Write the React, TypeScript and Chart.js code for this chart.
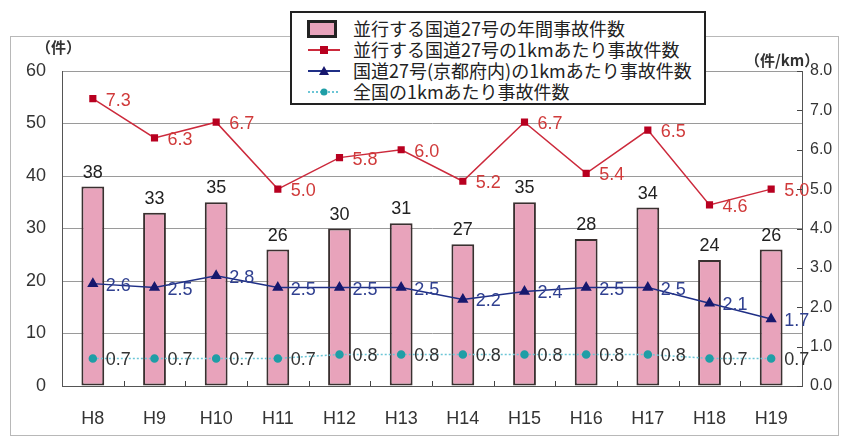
import React, { useEffect, useRef } from "react";
import { Chart, registerables } from "chart.js";

Chart.register(...registerables);

const categories = ["H8", "H9", "H10", "H11", "H12", "H13", "H14", "H15", "H16", "H17", "H18", "H19"];
const annualAccidents = [38, 33, 35, 26, 30, 31, 27, 35, 28, 34, 24, 26];
const parallelPerKm = [7.3, 6.3, 6.7, 5.0, 5.8, 6.0, 5.2, 6.7, 5.4, 6.5, 4.6, 5.0];
const kyotoPerKm = [2.6, 2.5, 2.8, 2.5, 2.5, 2.5, 2.2, 2.4, 2.5, 2.5, 2.1, 1.7];
const nationalPerKm = [0.7, 0.7, 0.7, 0.7, 0.8, 0.8, 0.8, 0.8, 0.8, 0.8, 0.7, 0.7];
const seriesNames = [
  "並行する国道27号の年間事故件数",
  "並行する国道27号の1kmあたり事故件数",
  "国道27号(京都府内)の1kmあたり事故件数",
  "全国の1kmあたり事故件数",
];
const leftUnit = "（件）";
const rightUnit = "（件/km）";

const NUM_FONT = "'Liberation Sans', Arial, sans-serif";
const JP_FONT = "'Noto Sans CJK JP', 'Liberation Sans', sans-serif";

const PINK = "#e8a3bb";
const RED = "#cc2a3c";
const RED_MARK = "#b80020";
const BLUE = "#1f2f86";
const BLUE_MARK = "#17186e";
const CYAN = "#6cc6d6";
const CYAN_MARK = "#1f9ea6";

const labelColors = ["#222", "#d03a3a", "#304090", "#333"];

const decorPlugin = {
  id: "decor",
  beforeDraw(chart: any) {
    const { ctx, width, height } = chart;
    ctx.save();
    ctx.fillStyle = "#fff";
    ctx.fillRect(0, 0, width, height);
    ctx.strokeStyle = "#b8b8b8";
    ctx.lineWidth = 1;
    ctx.strokeRect(10.5, 36.5, 828, 399);
    ctx.restore();
  },
  afterDatasetsDraw(chart: any) {
    const { ctx } = chart;
    ctx.save();
    chart.data.datasets.forEach((ds: any, i: number) => {
      const meta = chart.getDatasetMeta(i);
      meta.data.forEach((el: any, j: number) => {
        const v = ds.data[j];
        ctx.fillStyle = labelColors[i];
        ctx.font = `18px ${NUM_FONT}`;
        if (i === 0) {
          ctx.textAlign = "center";
          ctx.textBaseline = "alphabetic";
          ctx.fillText(String(v), el.x, el.y - 9);
        } else {
          ctx.textAlign = "left";
          ctx.textBaseline = "middle";
          ctx.fillText(v.toFixed(1), el.x + 13, el.y + 2);
        }
      });
    });
    ctx.restore();
  },
  afterDraw(chart: any) {
    const { ctx } = chart;
    ctx.save();
    ctx.fillStyle = "#333";
    ctx.font = `bold 15px ${JP_FONT}`;
    ctx.textBaseline = "middle";
    ctx.textAlign = "left";
    ctx.fillText(leftUnit, 36, 47);
    ctx.fillText(rightUnit, 745, 60);
    const x = chart.scales.x;
    const bottom = chart.chartArea.bottom;
    ctx.strokeStyle = "#444";
    ctx.lineWidth = 1;
    for (let k = 1; k < categories.length; k++) {
      const px = Math.round((x.getPixelForValue(k - 1) + x.getPixelForValue(k)) / 2) + 0.5;
      ctx.beginPath();
      ctx.moveTo(px, bottom);
      ctx.lineTo(px, bottom - 5);
      ctx.stroke();
    }
    const y1 = chart.scales.y1;
    const right = chart.chartArea.right;
    for (let v = 0; v <= 8; v++) {
      const py = Math.round(y1.getPixelForValue(v)) + 0.5;
      ctx.beginPath();
      ctx.moveTo(right, py);
      ctx.lineTo(right - 5, py);
      ctx.stroke();
    }
    ctx.restore();
  },
};

function LineIcon({ color, mark, shape, dashed }: { color: string; mark: string; shape: string; dashed?: boolean }) {
  return (
    <svg width="34" height="12" style={{ display: "block" }}>
      <line x1="1" y1="6" x2="33" y2="6" stroke={color} strokeWidth="2" strokeDasharray={dashed ? "2 2" : undefined} />
      {shape === "rect" && <rect x="13" y="2" width="8" height="8" fill={mark} />}
      {shape === "tri" && <polygon points="17,1 22,10 12,10" fill={mark} />}
      {shape === "circle" && <circle cx="17" cy="6" r="3.5" fill={mark} />}
    </svg>
  );
}

export default function App() {
  const canvasRef = useRef<HTMLCanvasElement>(null);

  useEffect(() => {
    const canvas = canvasRef.current!;
    const chart = new Chart(canvas, {
      type: "bar",
      data: {
        labels: categories,
        datasets: [
          {
            type: "bar",
            label: seriesNames[0],
            data: annualAccidents,
            yAxisID: "y",
            backgroundColor: PINK,
            borderColor: "#3a3030",
            borderWidth: 2,
            borderSkipped: false,
            barPercentage: 0.37,
            categoryPercentage: 1,
            order: 10,
          },
          {
            type: "line",
            label: seriesNames[1],
            data: parallelPerKm,
            yAxisID: "y1",
            borderColor: RED,
            borderWidth: 1.5,
            pointStyle: "rect",
            pointRadius: 4,
            pointBackgroundColor: RED_MARK,
            pointBorderColor: RED_MARK,
            order: 1,
          },
          {
            type: "line",
            label: seriesNames[2],
            data: kyotoPerKm,
            yAxisID: "y1",
            borderColor: BLUE,
            borderWidth: 1.5,
            pointStyle: "triangle",
            pointRadius: 5,
            pointBackgroundColor: BLUE_MARK,
            pointBorderColor: BLUE_MARK,
            order: 2,
          },
          {
            type: "line",
            label: seriesNames[3],
            data: nationalPerKm,
            yAxisID: "y1",
            borderColor: CYAN,
            borderWidth: 1.5,
            borderDash: [2, 2],
            pointStyle: "circle",
            pointRadius: 3.5,
            pointBackgroundColor: CYAN_MARK,
            pointBorderColor: CYAN_MARK,
            order: 3,
          },
        ],
      } as any,
      options: {
        animation: false,
        responsive: false,
        devicePixelRatio: 1,
        layout: { padding: { top: 71, left: 0, right: 0, bottom: 0 } },
        plugins: { legend: { display: false }, tooltip: { enabled: false } },
        scales: {
          x: {
            grid: { display: false },
            border: { display: true, color: "#555", width: 1 },
            ticks: { color: "#333", font: { family: NUM_FONT, size: 18 }, padding: 14 },
            afterFit: (s: any) => { s.height = 53; },
          },
          y: {
            position: "left",
            min: 0,
            max: 60,
            ticks: { stepSize: 10, color: "#333", font: { family: NUM_FONT, size: 18 }, padding: 16 },
            grid: { color: "#9a9a9a", lineWidth: 1, drawTicks: false },
            border: { display: true, color: "#555", width: 1 },
            afterFit: (s: any) => { s.width = 62; },
          },
          y1: {
            position: "right",
            min: 0,
            max: 8,
            ticks: {
              stepSize: 1,
              color: "#333",
              font: { family: NUM_FONT, size: 16 },
              padding: 8,
              callback: (v: any) => Number(v).toFixed(1),
            },
            grid: { drawOnChartArea: false, drawTicks: false },
            border: { display: true, color: "#555", width: 1 },
            afterFit: (s: any) => { s.width = 47; },
          },
        },
      } as any,
      plugins: [decorPlugin],
    });
    return () => chart.destroy();
  }, []);

  const rowStyle: React.CSSProperties = { display: "flex", alignItems: "center", height: 21 };
  const textStyle: React.CSSProperties = { marginLeft: 14, fontFamily: JP_FONT, fontSize: 18, color: "#222", whiteSpace: "nowrap", lineHeight: "21px" };

  return (
    <div style={{ position: "absolute", left: 0, top: 0, width: 849, height: 439, background: "#fff" }}>
      <canvas ref={canvasRef} width={849} height={439} style={{ position: "absolute", left: 0, top: 0 }} />
      <div
        style={{
          position: "absolute",
          left: 290,
          top: 11,
          width: 416,
          height: 94,
          border: "2px solid #222",
          background: "#fff",
          padding: "5px 0 0 15px",
          boxSizing: "border-box",
        }}
      >
        <div style={rowStyle}>
          <div style={{ width: 30, height: 18, background: PINK, border: "3px solid #222", boxSizing: "border-box" }} />
          <span style={{ ...textStyle, marginLeft: 16 }}>{seriesNames[0]}</span>
        </div>
        <div style={rowStyle}>
          <LineIcon color={RED} mark={RED_MARK} shape="rect" />
          <span style={{ ...textStyle, marginLeft: 12 }}>{seriesNames[1]}</span>
        </div>
        <div style={rowStyle}>
          <LineIcon color={BLUE} mark={BLUE_MARK} shape="tri" />
          <span style={{ ...textStyle, marginLeft: 12 }}>{seriesNames[2]}</span>
        </div>
        <div style={rowStyle}>
          <LineIcon color={CYAN} mark={CYAN_MARK} shape="circle" dashed />
          <span style={{ ...textStyle, marginLeft: 12 }}>{seriesNames[3]}</span>
        </div>
      </div>
    </div>
  );
}
